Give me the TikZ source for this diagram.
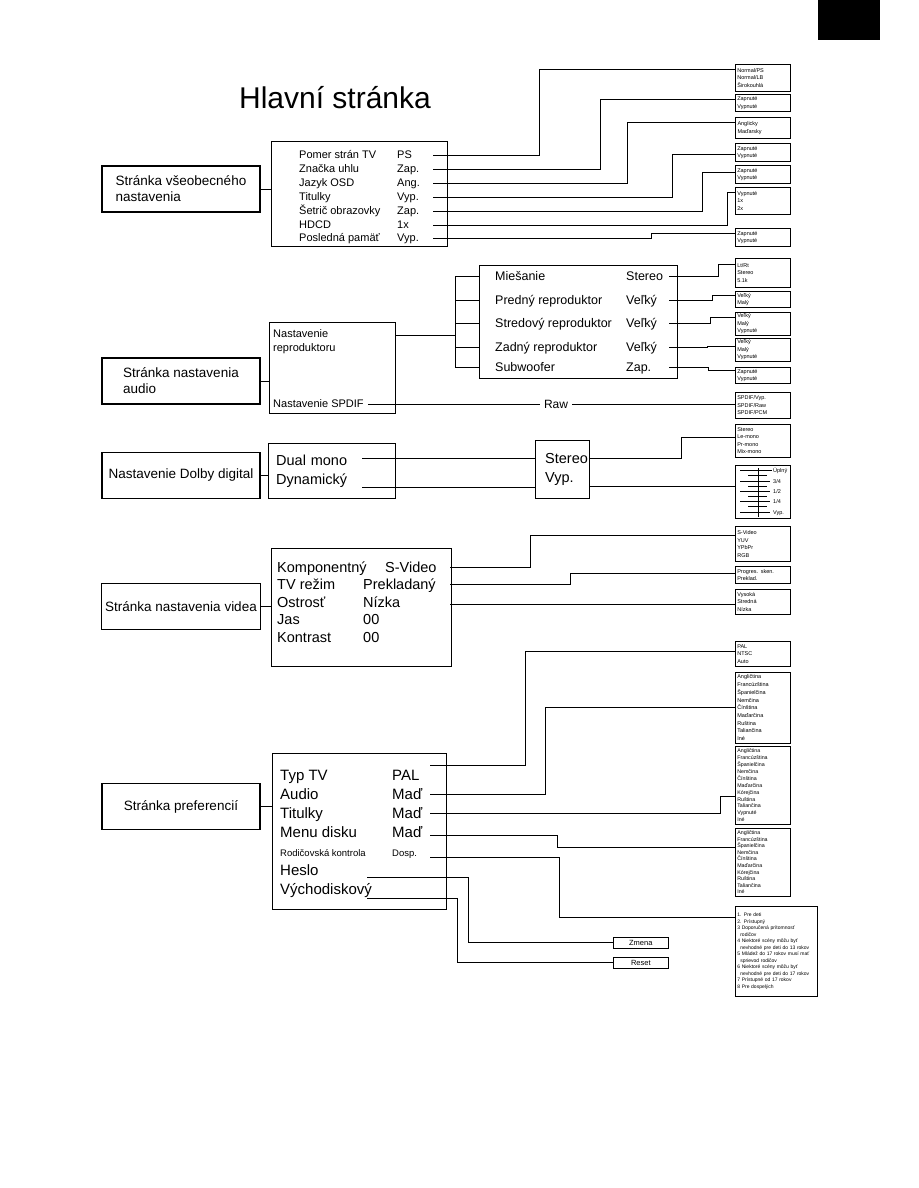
\documentclass[tikz,border=0pt]{standalone}
\usepackage{fontspec}
\setmainfont{Liberation Sans}
\usetikzlibrary{positioning, calc}

\newcommand{\fsz}[2]{\fontsize{#1}{#2}\selectfont}

\begin{document}
\begin{tikzpicture}[x=1pt, y=-1pt,
    pagebox/.style={draw, line width=1.1pt, minimum width=158pt, minimum height=46pt, align=left, font=\fsz{13.5}{16}},
    menubox/.style={draw, line width=1.1pt, anchor=north west, inner sep=0pt},
    optbox/.style={draw, line width=0.6pt, anchor=north west, inner xsep=2pt, inner ysep=1.5pt, text width=51pt, align=left, font=\fsz{5.5}{7.5}},
    btnbox/.style={draw, line width=0.6pt, anchor=north west, inner sep=0pt, minimum width=55pt, minimum height=11pt, font=\fsz{7.5}{9}},
    rowtxt/.style={anchor=west, inner sep=0pt, align=left, text depth=0pt},
    wire/.style={line width=0.8pt}
]
\useasboundingbox (0,0) rectangle (918,1188);
\fill (818,0) rectangle (880,40);
\node[font=\fsz{30}{36}] (title) at (335,98) {Hlavní stránka};

% General settings page
\node[pagebox] (gen) at (181,189) {Stránka všeobecného\\nastavenia};
\node[menubox, minimum width=176pt, minimum height=105pt] (genm) at (271,141) {};
\draw[wire] (gen.east) -- (gen.east -| genm.west);
\tikzset{genrow/.style={rowtxt, font=\fsz{11}{13}, text height=7.9pt}, genval/.style={genrow, text width=36pt}}
\node[genrow] (g1) at (299,155) {Pomer strán TV};
\node[genrow] (g2) at (299,169) {Značka uhlu};
\node[genrow] (g3) at (299,183) {Jazyk OSD};
\node[genrow] (g4) at (299,197) {Titulky};
\node[genrow] (g5) at (299,211) {Šetrič obrazovky};
\node[genrow] (g6) at (299,225) {HDCD};
\node[genrow] (g7) at (299,238) {Posledná pamäť};
\node[genval] (gv1) at (397,155) {PS};
\node[genval] (gv2) at (397,169) {Zap.};
\node[genval] (gv3) at (397,183) {Ang.};
\node[genval] (gv4) at (397,197) {Vyp.};
\node[genval] (gv5) at (397,211) {Zap.};
\node[genval] (gv6) at (397,225) {1x};
\node[genval] (gv7) at (397,238) {Vyp.};
\node[optbox, minimum height=27pt] (gb1) at (735,64) {Normal/PS\\Normal/LB\\Širokouhlá};
\node[optbox, minimum height=17pt] (gb2) at (735,94) {Zapnuté\\Vypnuté};
\node[optbox, minimum height=21pt, line width=1pt] (gb3) at (735,117) {Anglicky\\Maďarsky};
\node[optbox, minimum height=18pt] (gb4) at (735,143) {Zapnuté\\Vypnuté};
\node[optbox, minimum height=18pt] (gb5) at (735,165) {Zapnuté\\Vypnuté};
\node[optbox, minimum height=27pt] (gb6) at (735,187) {Vypnuté\\1x\\2x};
\node[optbox, minimum height=18pt] (gb7) at (735,228) {Zapnuté\\Vypnuté};
\draw[wire] (gv1.east) -- ++(106,0) |- ([yshift=-5pt]gb1.north west);
\draw[wire] (gv2.east) -- ++(167,0) |- ([yshift=-5pt]gb2.north west);
\draw[wire] (gv3.east) -- ++(194,0) |- ([yshift=-5pt]gb3.north west);
\draw[wire] (gv4.east) -- ++(239,0) |- ([yshift=-11pt]gb4.north west);
\draw[wire] (gv5.east) -- ++(269,0) |- ([yshift=-7pt]gb5.north west);
\draw[wire] (gv6.east) -- ++(294,0) |- ([yshift=-5pt]gb6.north west);
\draw[wire] (gv7.east) -- ++(218,0) |- ([yshift=-5pt]gb7.north west);

% Audio page
\node[pagebox] (aud) at (181,381) {Stránka nastavenia\\audio};
\node[menubox, minimum width=126pt, minimum height=91pt] (audm) at (269,322) {};
\draw[wire] (aud.east) -- (aud.east -| audm.west);
\node[anchor=north west, inner sep=0pt, align=left, font=\fsz{11}{14}] (rep) at (273,329) {Nastavenie\\reproduktoru};
\node[rowtxt, font=\fsz{11}{13}, text height=7.9pt] (spdif) at (273,404) {Nastavenie SPDIF};
\coordinate (br) at (455,335);
\draw[wire] (audm.east |- br) -- (br);
\node[menubox, minimum width=198pt, minimum height=113pt] (spk) at (479,265) {};
\tikzset{srow/.style={rowtxt, font=\fsz{12.5}{15}, text height=9pt}, sval/.style={srow, text width=43pt}}
\node[srow] (s1) at (495,276) {Miešanie};
\node[srow] (s2) at (495,300) {Predný reproduktor};
\node[srow] (s3) at (495,323) {Stredový reproduktor};
\node[srow] (s4) at (495,347) {Zadný reproduktor};
\node[srow] (s5) at (495,367) {Subwoofer};
\node[sval] (sv1) at (626,276) {Stereo};
\node[sval] (sv2) at (626,300) {Veľký};
\node[sval] (sv3) at (626,323) {Veľký};
\node[sval] (sv4) at (626,347) {Veľký};
\node[sval] (sv5) at (626,367) {Zap.};
\draw[wire] (br |- s1) -- (br |- s5);
\draw[wire] (br |- s1) -- (spk.west |- s1);
\draw[wire] (br |- s2) -- (spk.west |- s2);
\draw[wire] (br |- s3) -- (spk.west |- s3);
\draw[wire] (br |- s4) -- (spk.west |- s4);
\draw[wire] (br |- s5) -- (spk.west |- s5);
\node[optbox, minimum height=29pt] (sb1) at (735,258) {Lt/Rt\\Stereo\\5.1k};
\node[optbox, minimum height=16pt] (sb2) at (735,291) {Veľký\\Malý};
\node[optbox, minimum height=22pt] (sb3) at (735,312) {Veľký\\Malý\\Vypnuté};
\node[optbox, minimum height=23pt] (sb4) at (735,338) {Veľký\\Malý\\Vypnuté};
\node[optbox, minimum height=16pt] (sb5) at (735,367) {Zapnuté\\Vypnuté};
\node[optbox, minimum height=26pt] (sb6) at (735,392) {SPDIF/Vyp.\\SPDIF/Raw\\SPDIF/PCM};
\draw[wire] (sv1.east) -- ++(49,0) |- ([yshift=-6pt]sb1.north west);
\draw[wire] (sv2.east) -- ++(43,0) |- ([yshift=-4pt]sb2.north west);
\draw[wire] (sv3.east) -- ++(41,0) |- ([yshift=-5pt]sb3.north west);
\draw[wire] (sv4.east) -- ++(38,0) |- ([yshift=-8pt]sb4.north west);
\draw[wire] (sv5.east) -- ++(39,0) |- ([yshift=-3pt]sb5.north west);
\node[font=\fsz{12}{14}, inner sep=4pt] (raw) at (556,404) {Raw};
\draw[wire] ([xshift=4pt]spdif.east) -- (raw.west);
\draw[wire] (raw.east) -- (raw.east -| sb6.west);

% Dolby digital page
\node[pagebox] (dol) at (181,475.5) {Nastavenie Dolby digital};
\node[menubox, minimum width=127pt, minimum height=55pt] (dolm) at (268,443) {};
\draw[wire] (dol.east) -- (dol.east -| dolm.west);
\tikzset{drow/.style={rowtxt, font=\fsz{14.5}{17}, text height=10.4pt}}
\node[drow, text width=86pt] (dual) at (276,460) {Dual mono};
\node[drow, text width=86pt] (dyn) at (276,479) {Dynamický};
\node[menubox, minimum width=54pt, minimum height=58pt] (sd) at (535,440) {};
\node[drow] (st) at (545,458) {Stereo};
\node[drow] (vy) at (545,477) {Vyp.};
\draw[wire] ([yshift=2pt]dual.east) -- ([yshift=2pt]dual.east -| sd.west);
\draw[wire] ([yshift=-3pt]dyn.south east) -- ([yshift=-3pt]dyn.south east -| sd.west);
\node[optbox, minimum height=33pt] (db1) at (735,424) {Stereo\\Le-mono\\Pr-mono\\Mix-mono};
\node[optbox, minimum height=53pt] (db2) at (735,465) {};
\draw[wire] (sd.east |- st) -- ++(91,0) |- ([yshift=-13pt]db1.north west);
\draw[wire] ([yshift=-4pt]vy.south -| sd.east) -- ([yshift=-4pt]vy.south -| db2.west);
\draw[line width=0.7pt] (758,468) -- (758,517);
\draw[line width=0.6pt] (740,470) -- (772,470) (748,475.5) -- (767,475.5)
    (740,481) -- (770,481) (748,486) -- (767,486)
    (740,491) -- (770,491) (748,496) -- (767,496)
    (740,501) -- (770,501) (748,506.5) -- (767,506.5)
    (740,512) -- (770,512);
\tikzset{lvl/.style={rowtxt, font=\fsz{5.5}{6}, text height=4pt}}
\node[lvl] (lv1) at (773,470) {Úplný};
\node[lvl] (lv2) at (773,481) {3/4};
\node[lvl] (lv3) at (773,491) {1/2};
\node[lvl] (lv4) at (773,501) {1/4};
\node[lvl] (lv5) at (773,512) {Vyp.};

% Video page
\node[pagebox] (vid) at (181,606.5) {Stránka nastavenia videa};
\node[menubox, minimum width=180pt, minimum height=118pt] (vidm) at (271,548) {};
\draw[wire] (vid.east) -- (vid.east -| vidm.west);
\tikzset{vrow/.style={rowtxt, font=\fsz{14.5}{17}, text height=10.4pt}, vval/.style={vrow, text width=87pt}}
\node[vrow] (v1) at (277,567) {Komponentný};
\node[vrow] (v2) at (277,584) {TV režim};
\node[vrow] (v3) at (277,602) {Ostrosť};
\node[vrow] (v4) at (277,619) {Jas};
\node[vrow] (v5) at (277,637) {Kontrast};
\node[vrow, text width=65pt] (vv1) at (385,567) {S-Video};
\node[vval] (vv2) at (363,584) {Prekladaný};
\node[vval] (vv3) at (363,602) {Nízka};
\node[vval] (vv4) at (363,619) {00};
\node[vval] (vv5) at (363,637) {00};
\node[optbox, minimum height=35pt] (vb1) at (735,526) {S-Video\\YUV\\YPbPr\\RGB};
\node[optbox, minimum height=17pt] (vb2) at (735,566) {Progres. sken.\\Preklad.};
\node[optbox, minimum height=25pt] (vb3) at (735,589) {Vysoká\\Stredná\\Nízka};
\draw[wire] (vv1.east) -- ++(80,0) |- ([yshift=-9pt]vb1.north west);
\draw[wire] (vv2.east) -- ++(120,0) |- ([yshift=-7pt]vb2.north west);
\draw[wire] ([yshift=-2pt]vv3.east) -- ([yshift=-2pt]vv3.east -| vb3.west);

% Preferences page
\node[pagebox] (pref) at (181,806.5) {Stránka preferencií};
\node[menubox, minimum width=174pt, minimum height=156pt] (prefm) at (272,753) {};
\draw[wire] (pref.east) -- (pref.east -| prefm.west);
\tikzset{prow/.style={rowtxt, font=\fsz{15}{18}, text height=10.8pt}, pval/.style={prow, text width=38pt}}
\node[prow] (p1) at (280,775) {Typ TV};
\node[prow] (p2) at (280,794) {Audio};
\node[prow] (p3) at (280,813) {Titulky};
\node[prow] (p4) at (280,832) {Menu disku};
\node[rowtxt, font=\fsz{9.5}{11}, text height=6.8pt] (p5) at (280,853) {Rodičovská kontrola};
\node[prow, text width=87pt] (hes) at (280,870) {Heslo};
\node[prow, text width=87pt] (vch) at (280,889) {Východiskový};
\node[pval] (pv1) at (392,775) {PAL};
\node[pval] (pv2) at (392,794) {Maď};
\node[pval] (pv3) at (392,813) {Maď};
\node[pval] (pv4) at (392,832) {Maď};
\node[rowtxt, font=\fsz{9.5}{11}, text height=6.8pt, text width=38pt] (pv5) at (392,853) {Dosp.};
\node[optbox, minimum height=25pt] (pb1) at (735,641) {PAL\\NTSC\\Auto};
\node[optbox, minimum height=71pt, font=\fsz{5.5}{7.7}] (pb2) at (735,672)
    {Angličtina\\Francúzština\\Španielčina\\Nemčina\\Čínština\\Maďarčina\\Ruština\\Taliančina\\Iné};
\node[optbox, minimum height=78pt, font=\fsz{5.3}{6.9}] (pb3) at (735,746)
    {Angličtina\\Francúzština\\Španielčina\\Nemčina\\Čínština\\Maďarčina\\Kórejčina\\Ruština\\Taliančina\\Vypnuté\\Iné};
\node[optbox, minimum height=68pt, font=\fsz{5.3}{6.6}] (pb4) at (735,828)
    {Angličtina\\Francúzština\\Španielčina\\Nemčina\\Čínština\\Maďarčina\\Kórejčina\\Ruština\\Taliančina\\Iné};
\node[optbox, minimum height=90pt, text width=78pt, font=\fsz{5}{6.5}] (pb5) at (735,906)
    {1. Pre deti\\2. Prístupný\\3 Doporučená prítomnosť\\\hspace*{3pt}rodičov\\4 Niektoré scény môžu byť\\\hspace*{3pt}nevhodné pre deti do 13 rokov\\5 Mládež do 17 rokov musí mať\\\hspace*{3pt}sprievod rodičov\\6 Niektoré scény môžu byť\\\hspace*{3pt}nevhodné pre deti do 17 rokov\\7 Prístupné od 17 rokov\\8 Pre dospelých};
\node[btnbox] (zm) at (613,937) {Zmena};
\node[btnbox] (rs) at (613,957) {Reset};
\draw[wire] ([yshift=10pt]pv1.east) -- ++(95,0) |- ([yshift=-10pt]pb1.north west);
\draw[wire] (pv2.east) -- ++(115,0) |- (pb2.west);
\draw[wire] (pv3.east) -- ++(290,0) |- ([yshift=-50pt]pb3.north west);
\draw[wire] ([yshift=-3pt]pv4.east) -- ++(127,0) |- ([yshift=-19pt]pb4.north west);
\draw[wire] ([yshift=-4pt]pv5.east) -- ++(129,0) |- ([yshift=-11pt]pb5.north west);
\draw[wire] ([yshift=-2pt]hes.south east) -- ++(101,0) |- (zm.west);
\draw[wire] ([yshift=-4pt]vch.south east) -- ++(90,0) |- (rs.west);
\end{tikzpicture}
\end{document}
